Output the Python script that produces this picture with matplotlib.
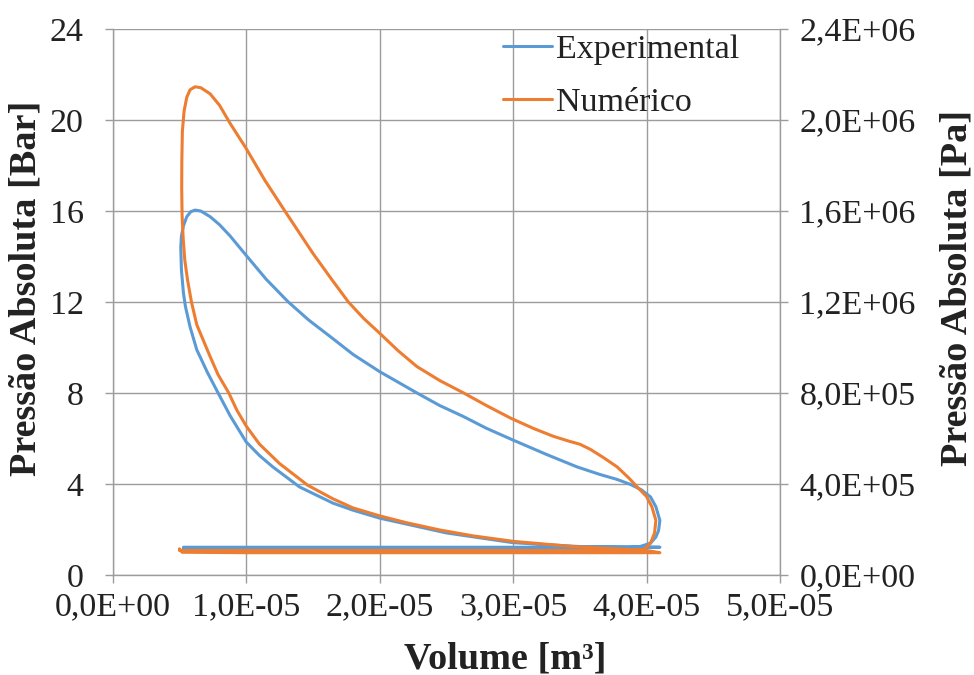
import numpy as np
import matplotlib
matplotlib.use("Agg")
import matplotlib.pyplot as plt

plt.rcParams["font.family"] = ["Liberation Serif", "DejaVu Serif"]

# Pressure-volume cycle; volume in units of 1e-5 m3, pressure in bar
VOL_UNIT = 1e-5

exp_volume = [
    # intake
    0.53, 1.50, 2.50, 3.50, 4.10,
    # compression
    3.50, 3.00, 2.50, 2.00, 1.80, 1.65, 1.40, 1.20, 1.10, 1.00, 0.88, 0.79,
    0.71, 0.63, 0.58, 0.545, 0.53, 0.515, 0.51, 0.515, 0.53, 0.555, 0.585,
    # expansion
    0.617, 0.66, 0.73, 0.80, 0.88, 1.00, 1.15, 1.316, 1.47, 1.63, 1.80, 2.00,
    2.28, 2.45, 2.63, 2.80, 3.00, 3.25, 3.48, 3.65, 3.78, 3.88, 3.96, 4.03,
    4.07, 4.10, 4.09, 4.07, 4.03, 3.95, 3.80,
    # exhaust
    2.50, 0.53,
]
exp_pressure = [
    1.22, 1.22, 1.22, 1.22, 1.22,
    1.25, 1.42, 1.85, 2.50, 2.85, 3.16, 3.87, 4.75, 5.25, 5.85, 7.00, 8.00,
    8.90, 9.90, 10.90, 11.80, 12.40, 13.40, 14.40, 14.90, 15.35, 15.75, 15.97,
    16.04, 16.00, 15.75, 15.40, 14.90, 14.05, 13.00, 12.00, 11.20, 10.48, 9.70, 8.94,
    8.00, 7.45, 6.96, 6.45, 5.93, 5.30, 4.75, 4.42, 4.20, 3.98, 3.75, 3.43,
    3.00, 2.40, 1.95, 1.67, 1.40, 1.25, 1.17,
    1.15, 1.15,
]

num_volume = [
    # intake
    0.50, 0.52, 1.00, 4.10,
    # compression
    4.02, 3.85, 3.45, 3.00, 2.70, 2.45, 2.20, 2.00, 1.80, 1.65, 1.46, 1.25,
    1.10, 1.00, 0.93, 0.87, 0.79, 0.73, 0.68, 0.63, 0.59, 0.56, 0.54, 0.528,
    0.52, 0.517, 0.518, 0.522, 0.535, 0.555, 0.58,
    # expansion
    0.617, 0.66, 0.73, 0.80, 0.88, 0.94, 1.00, 1.14, 1.29, 1.50, 1.64, 1.766,
    1.88, 2.00, 2.14, 2.28, 2.45, 2.63, 2.80, 2.98, 3.15, 3.30, 3.42, 3.50,
    3.58, 3.68, 3.78, 3.87, 3.93, 4.00, 4.04, 4.07, 4.06, 4.03, 3.98, 3.90,
    # exhaust
    2.00, 0.50,
]
num_pressure = [
    1.15, 1.00, 0.98, 0.98,
    1.06, 1.13, 1.25, 1.48, 1.72, 1.98, 2.30, 2.60, 2.95, 3.35, 3.95, 4.90,
    5.75, 6.55, 7.25, 8.00, 8.80, 9.60, 10.30, 11.00, 12.00, 13.00, 13.85, 14.80,
    15.80, 17.00, 18.20, 19.50, 20.40, 21.00, 21.33,
    21.46, 21.42, 21.15, 20.65, 19.85, 19.30, 18.75, 17.35, 16.00, 14.14, 13.00, 12.00,
    11.28, 10.63, 9.85, 9.16, 8.55, 8.00, 7.45, 6.90, 6.45, 6.10, 5.88, 5.75,
    5.52, 5.15, 4.75, 4.25, 3.87, 3.45, 3.00, 2.40, 1.85, 1.40, 1.12, 1.08,
    1.08, 1.08,
]

series_labels = ["Experimental", "Numérico"]
series_colors = ["#5B9BD5", "#ED7D31"]

x_ticks = [0.0, 1e-5, 2e-5, 3e-5, 4e-5, 5e-5]
x_tick_labels = ["0,0E+00", "1,0E-05", "2,0E-05", "3,0E-05", "4,0E-05", "5,0E-05"]
bar_ticks = [0, 4, 8, 12, 16, 20, 24]
bar_tick_labels = ["0", "4", "8", "12", "16", "20", "24"]
pa_ticks = [0.0, 4e5, 8e5, 1.2e6, 1.6e6, 2.0e6, 2.4e6]
pa_tick_labels = ["0,0E+00", "4,0E+05", "8,0E+05", "1,2E+06", "1,6E+06", "2,0E+06", "2,4E+06"]

W, H = 974, 675
fig = plt.figure(figsize=(W / 100, H / 100), dpi=100)
left_px, right_px, top_px, bottom_px = 112.7, 780.0, 29.0, 575.0
ax = fig.add_axes([left_px / W, 1 - bottom_px / H,
                   (right_px - left_px) / W, (bottom_px - top_px) / H])

grid_c = "#9c9c9c"
text_c = "#222222"
fs_tick = 24.5
fs_label = 27.5

for vol, pres, lab, col in zip([exp_volume, num_volume], [exp_pressure, num_pressure],
                               series_labels, series_colors):
    ax.plot(np.array(vol) * VOL_UNIT, pres, color=col, lw=2.2, label=lab,
            solid_joinstyle="round", solid_capstyle="round", zorder=3)

ax.set_xlim(0, 5e-5)
ax.set_ylim(0, 24)
ax.set_xticks(x_ticks)
ax.set_xticklabels(x_tick_labels)
ax.set_yticks(bar_ticks)
ax.set_yticklabels(bar_tick_labels)
ax.grid(True, color=grid_c, lw=1.0, zorder=0)
ax.set_axisbelow(True)
for side in ["top", "right"]:
    ax.spines[side].set_visible(False)
for side in ["left", "bottom"]:
    ax.spines[side].set_color(grid_c)
    ax.spines[side].set_linewidth(1.0)
ax.tick_params(axis="both", direction="out", length=6, width=1.0, color=grid_c,
               labelsize=fs_tick, labelcolor=text_c)
ax.tick_params(axis="x", pad=6)
ax.tick_params(axis="y", pad=15)

ax2 = ax.twinx()
ax2.set_ylim(0, 24 * 1e5)
ax2.set_yticks(pa_ticks)
ax2.set_yticklabels(pa_tick_labels)
for side in ["top", "left", "bottom"]:
    ax2.spines[side].set_visible(False)
ax2.spines["right"].set_color(grid_c)
ax2.spines["right"].set_linewidth(1.0)
ax2.tick_params(axis="y", direction="out", length=6, width=1.0, color=grid_c,
                labelsize=fs_tick, labelcolor=text_c, pad=8)

leg = ax.legend(loc="upper left", bbox_to_anchor=(0.585, 0.99), frameon=False,
                fontsize=fs_tick, handlelength=1.45, handletextpad=0.1,
                labelspacing=0.65, borderpad=0, borderaxespad=0)
for t in leg.get_texts():
    t.set_color(text_c)

fig.text(26 / W, 1 - 288 / H, "Pressão Absoluta [Bar]", rotation=90, ha="center",
         va="center", fontsize=fs_label, fontweight="bold", color=text_c)
fig.text(957 / W, 1 - 288 / H, "Pressão Absoluta [Pa]", rotation=90, ha="center",
         va="center", fontsize=fs_label, fontweight="bold", color=text_c)
fig.text(505 / W, 1 - 659 / H, "Volume [m³]", ha="center", va="center",
         fontsize=fs_label, fontweight="bold", color=text_c)

fig.savefig("out.png", dpi=100, facecolor="white")
